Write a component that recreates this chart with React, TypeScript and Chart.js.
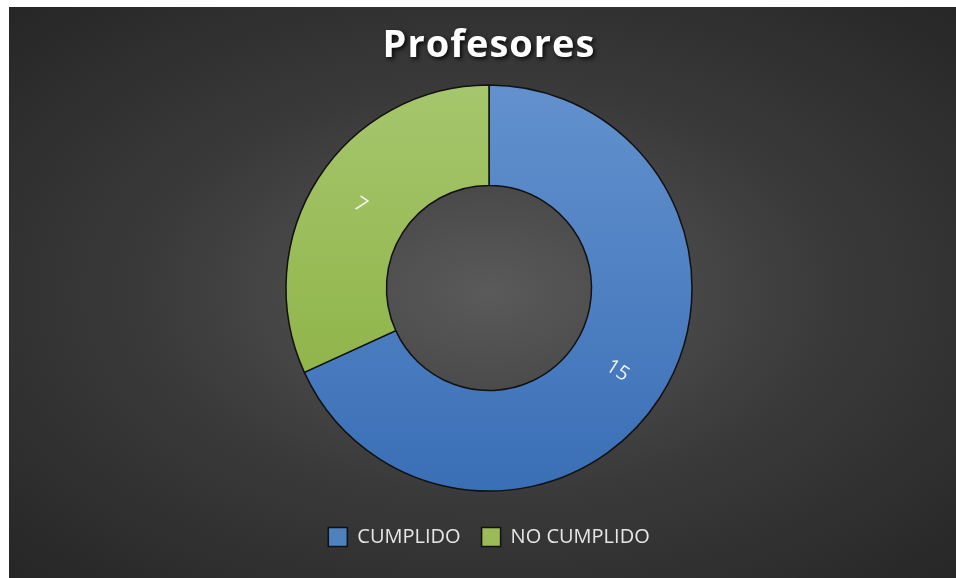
import React, { useEffect, useRef } from "react";
import { Chart, registerables } from "chart.js";

Chart.register(...registerables);

const chartTitle = "Profesores";
const categories = ["CUMPLIDO", "NO CUMPLIDO"];
const values = [15, 7];
const solidColors = ["#4F81BD", "#9BBB59"];
const gradientTops = ["#6391CE", "#A6C66D"];
const gradientBottoms = ["#3A6FB6", "#88AE3C"];

const OUTER_R = 203;

const overlayPlugin = {
  id: "overlay",
  afterDatasetsDraw(chart: any) {
    const ctx = chart.ctx;
    const meta = chart.getDatasetMeta(0);
    ctx.save();
    ctx.fillStyle = "#f2f2f2";
    ctx.font = "20px 'Open Sans'";
    ctx.textAlign = "center";
    ctx.textBaseline = "middle";
    meta.data.forEach((arc: any, i: number) => {
      const p = arc.getProps(["x", "y", "startAngle", "endAngle", "innerRadius", "outerRadius"], true);
      const mid = (p.startAngle + p.endAngle) / 2;
      const r = (p.innerRadius + p.outerRadius) / 2;
      const x = p.x + Math.cos(mid) * r;
      const y = p.y + Math.sin(mid) * r;
      let rot = mid;
      while (rot > Math.PI) rot -= 2 * Math.PI;
      while (rot <= -Math.PI) rot += 2 * Math.PI;
      if (rot > Math.PI / 2) rot -= Math.PI;
      if (rot < -Math.PI / 2) rot += Math.PI;
      ctx.save();
      ctx.translate(x, y);
      ctx.rotate(rot);
      ctx.fillText(String(values[i]), 0, 0);
      ctx.restore();
    });
    ctx.restore();
  },
  afterDraw(chart: any) {
    const ctx = chart.ctx;
    const area = chart.chartArea;
    ctx.save();
    ctx.font = "bold 38px 'Open Sans'";
    try {
      (ctx as any).letterSpacing = "1px";
    } catch (e) {}
    ctx.textAlign = "center";
    ctx.textBaseline = "middle";
    ctx.shadowColor = "rgba(0,0,0,0.85)";
    ctx.shadowBlur = 4;
    ctx.shadowOffsetX = 2;
    ctx.shadowOffsetY = 2;
    ctx.fillStyle = "#ffffff";
    const cx = (area.left + area.right) / 2;
    ctx.fillText(chartTitle, cx, 39);
    ctx.restore();
  },
};

export default function App() {
  const canvasRef = useRef<HTMLCanvasElement | null>(null);

  useEffect(() => {
    const canvas = canvasRef.current;
    if (!canvas) return;
    const chart = new Chart(canvas, {
      type: "doughnut",
      data: {
        labels: categories,
        datasets: [
          {
            data: values,
            backgroundColor: (c: any) => {
              const i = c.dataIndex ?? 0;
              const area = c.chart.chartArea;
              if (!area) return solidColors[i];
              const cy = (area.top + area.bottom) / 2;
              const g = c.chart.ctx.createLinearGradient(0, cy - OUTER_R, 0, cy + OUTER_R);
              g.addColorStop(0, gradientTops[i]);
              g.addColorStop(1, gradientBottoms[i]);
              return g;
            },
            borderColor: "#111111",
            borderWidth: 1.5,
            radius: OUTER_R,
            cutout: "50.5%",
          } as any,
        ],
      },
      options: {
        responsive: false,
        animation: false,
        layout: { padding: { top: 63, bottom: 21, left: 0, right: 0 } },
        plugins: {
          title: { display: false },
          tooltip: { enabled: false },
          legend: {
            display: true,
            position: "bottom",
            labels: {
              boxWidth: 19,
              boxHeight: 19,
              padding: 21,
              color: "#e6e6e6",
              font: { family: "'Open Sans'", size: 20 },
              generateLabels: () =>
                categories.map((c, i) => ({
                  text: c,
                  fillStyle: solidColors[i],
                  strokeStyle: "#111111",
                  lineWidth: 1.5,
                  fontColor: "#e6e6e6",
                  hidden: false,
                  index: i,
                })),
            },
          },
        },
      },
      plugins: [overlayPlugin],
    } as any);
    return () => chart.destroy();
  }, []);

  return (
    <div style={{ position: "fixed", inset: 0, overflow: "hidden", background: "#ffffff" }}>
      <div
        style={{
          position: "absolute",
          left: 9,
          top: 7,
          width: 960,
          height: 571,
          background: "radial-gradient(ellipse farthest-corner at 50% 50%, #5a5a5a 0%, #3a3a3a 50%, #262626 100%)",
        }}
      >
        <canvas ref={canvasRef} width={960} height={571} style={{ display: "block" }} />
      </div>
    </div>
  );
}
